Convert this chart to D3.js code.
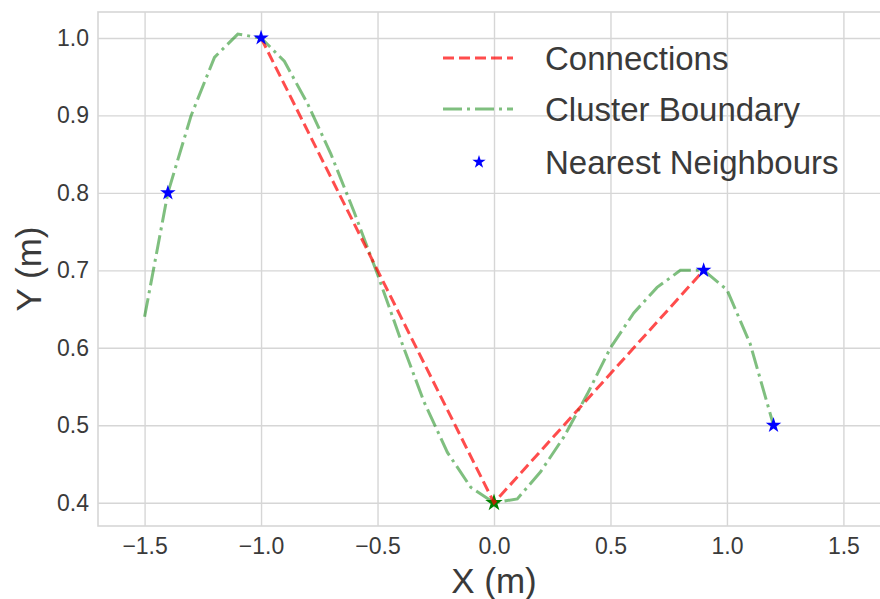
<!DOCTYPE html>
<html>
<head>
<meta charset="utf-8">
<script src="https://cdn.jsdelivr.net/npm/d3@7"></script>
<style>
  html, body { margin: 0; padding: 0; background: #fff; }
  svg { display: block; }
</style>
</head>
<body>
<svg id="chart" width="880" height="599"></svg>
<script>
// Cluster boundary (green dash-dot polyline)
const boundaryX = [-1.5, -1.4, -1.3, -1.2, -1.1, -1.0, -0.9, -0.8, -0.7, -0.6, -0.5, -0.4, -0.3, -0.2, -0.1,
                   0.0, 0.1, 0.2, 0.3, 0.4, 0.5, 0.6, 0.7, 0.8, 0.9, 1.0, 1.1, 1.2];
const boundaryY = [0.64, 0.80, 0.90, 0.975, 1.005, 1.0, 0.97, 0.915, 0.85, 0.775, 0.695, 0.61, 0.53, 0.465, 0.42,
                   0.40, 0.405, 0.44, 0.485, 0.54, 0.6, 0.645, 0.678, 0.70, 0.70, 0.675, 0.605, 0.50];

// Connections (red dashed)
const connX = [-1.0, 0.0, 0.9];
const connY = [1.0, 0.4, 0.7];

// Nearest neighbours (blue stars) and query point (green star)
const neighbourX = [-1.4, -1.0, 0.9, 1.2];
const neighbourY = [0.8, 1.0, 0.7, 0.5];
const queryX = [0.0];
const queryY = [0.4];

const xTicks = [-1.5, -1.0, -0.5, 0.0, 0.5, 1.0, 1.5];
const yTicks = [0.4, 0.5, 0.6, 0.7, 0.8, 0.9, 1.0];
const legendLabels = ["Connections", "Cluster Boundary", "Nearest Neighbours"];

const LEFT = 98, RIGHT = 890, TOP = 12, BOTTOM = 526;
const GRID = "#d6d6d6";
const TEXT = "#3a3a3a";
const FONT = "Liberation Sans, Arial, sans-serif";

const svg = d3.select("#chart");
const x = d3.scaleLinear().domain([-1.7, 1.7]).range([LEFT, RIGHT]);
const y = d3.scaleLinear().domain([0.37, 1.0335]).range([BOTTOM, TOP]);
const fmt = d3.format(".1f");

// Grid
const xAxis = svg.append("g")
  .attr("transform", `translate(0,${BOTTOM})`)
  .call(d3.axisBottom(x).tickValues(xTicks).tickFormat(fmt)
    .tickSize(-(BOTTOM - TOP)).tickPadding(12));
const yAxis = svg.append("g")
  .attr("transform", `translate(${LEFT},0)`)
  .call(d3.axisLeft(y).tickValues(yTicks).tickFormat(fmt)
    .tickSize(-(RIGHT - LEFT)).tickPadding(9));

[xAxis, yAxis].forEach(ax => {
  ax.select(".domain").remove();
  ax.selectAll(".tick line").attr("stroke", GRID).attr("stroke-width", 1.4);
  ax.selectAll(".tick text")
    .attr("fill", TEXT)
    .attr("font-family", FONT)
    .attr("font-size", "23px");
});

// Frame
svg.append("rect")
  .attr("x", LEFT).attr("y", TOP)
  .attr("width", RIGHT - LEFT).attr("height", BOTTOM - TOP)
  .attr("fill", "none")
  .attr("stroke", GRID)
  .attr("stroke-width", 1.6);

const line = d3.line().x(d => x(d[0])).y(d => y(d[1]));
const star = d3.symbol().type(d3.symbolStar);

// Cluster boundary
svg.append("path")
  .datum(d3.zip(boundaryX, boundaryY))
  .attr("d", line)
  .attr("fill", "none")
  .attr("stroke", "#008000")
  .attr("stroke-opacity", 0.5)
  .attr("stroke-width", 3)
  .attr("stroke-dasharray", "19,5,3,5");

// Query point
svg.selectAll(".query")
  .data(d3.zip(queryX, queryY))
  .join("path")
  .attr("class", "query")
  .attr("transform", d => `translate(${x(d[0])},${y(d[1])})`)
  .attr("d", star.size(95))
  .attr("fill", "#008000");

// Connections
svg.append("path")
  .datum(d3.zip(connX, connY))
  .attr("d", line)
  .attr("fill", "none")
  .attr("stroke", "#ff0000")
  .attr("stroke-opacity", 0.7)
  .attr("stroke-width", 3)
  .attr("stroke-dasharray", "11,5");

// Nearest neighbours
svg.selectAll(".nn")
  .data(d3.zip(neighbourX, neighbourY))
  .join("path")
  .attr("class", "nn")
  .attr("transform", d => `translate(${x(d[0])},${y(d[1])})`)
  .attr("d", star.size(75))
  .attr("fill", "#0000ff");

// Legend
const legend = svg.append("g").attr("transform", "translate(443,0)");
const rowY = [58, 109, 162];
legend.append("line")
  .attr("x1", 0).attr("x2", 70).attr("y1", rowY[0]).attr("y2", rowY[0])
  .attr("stroke", "#ff0000").attr("stroke-opacity", 0.7)
  .attr("stroke-width", 3).attr("stroke-dasharray", "11,5");
legend.append("line")
  .attr("x1", 0).attr("x2", 70).attr("y1", rowY[1]).attr("y2", rowY[1])
  .attr("stroke", "#008000").attr("stroke-opacity", 0.5)
  .attr("stroke-width", 3).attr("stroke-dasharray", "19,5,3,5");
legend.append("path")
  .attr("transform", `translate(36,${rowY[2]})`)
  .attr("d", star.size(55))
  .attr("fill", "#0000ff");
legend.selectAll("text")
  .data(legendLabels)
  .join("text")
  .attr("x", 102)
  .attr("y", (d, i) => rowY[i])
  .attr("dy", "0.36em")
  .attr("font-family", FONT)
  .attr("font-size", "33px")
  .attr("fill", TEXT)
  .text(d => d);

// Axis labels
svg.append("text")
  .attr("x", (LEFT + RIGHT) / 2)
  .attr("y", 593)
  .attr("text-anchor", "middle")
  .attr("font-family", FONT)
  .attr("font-size", "35px")
  .attr("fill", TEXT)
  .text("X (m)");
svg.append("text")
  .attr("transform", `translate(41,${(TOP + BOTTOM) / 2}) rotate(-90)`)
  .attr("text-anchor", "middle")
  .attr("font-family", FONT)
  .attr("font-size", "35px")
  .attr("fill", TEXT)
  .text("Y (m)");
</script>
</body>
</html>
